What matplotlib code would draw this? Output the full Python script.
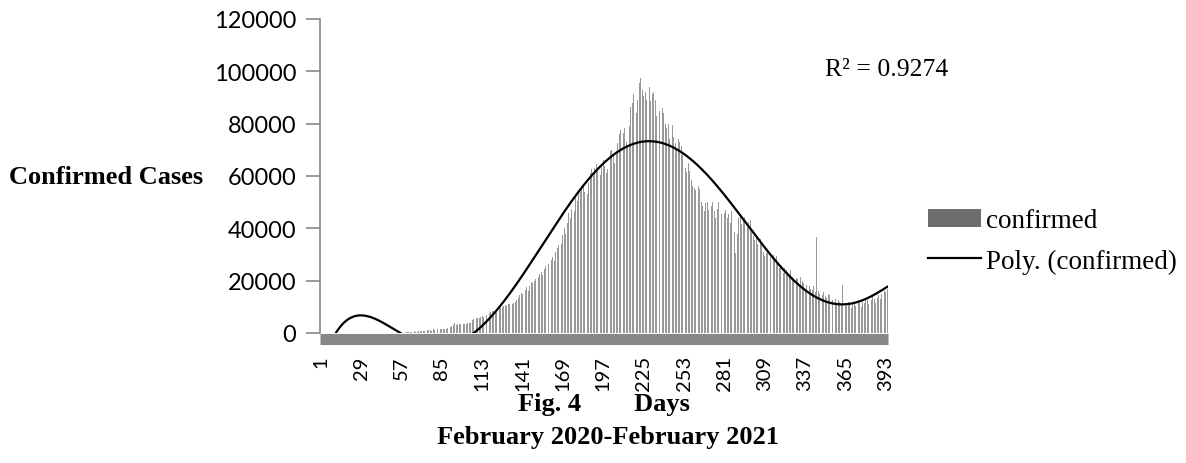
import matplotlib
matplotlib.use("Agg")
import matplotlib.pyplot as plt
import numpy as np

# daily confirmed cases, in 10-day chunks
d001_060 = [1, 0, 1, 1, 0, 0, 0, 0, 0, 0,
            0, 0, 0, 0, 0, 0, 0, 0, 0, 0,
            0, 0, 0, 0, 0, 0, 0, 0, 0, 0,
            0, 0, 2, 1, 22, 2, 1, 3, 5, 4,
            13, 6, 11, 9, 20, 11, 6, 23, 14, 38,
            50, 86, 66, 103, 37, 121, 70, 160, 100, 227]
d061_120 = [440, 240, 480, 530, 510, 700, 510, 490, 590, 900,
            770, 920, 800, 1210, 1080, 1010, 1060, 920, 1540, 1290,
            1330, 1550, 1340, 1380, 1410, 1680, 1610, 1560, 1870, 1740,
            2400, 2560, 2950, 3660, 2970, 3600, 3340, 3340, 3180, 3600,
            3590, 3560, 3720, 3970, 3970, 4990, 5240, 4970, 5610, 5610,
            5800, 6200, 6500, 6300, 6700, 7000, 6600, 7500, 8000, 8300]
d121_180 = [8500, 8200, 9000, 9800, 10200, 9600, 10000, 10500, 10800, 10300,
            10900, 11200, 10500, 11000, 11500, 11800, 12500, 13500, 14500, 15300,
            14800, 15500, 16500, 17500, 16000, 18000, 19600, 19000, 20000, 20500,
            19500, 21500, 22500, 23400, 22000, 24500, 25500, 24500, 26500, 27000,
            28000, 29000, 27500, 31000, 32500, 33500, 35000, 34000, 37500, 40000,
            38000, 42000, 45800, 44000, 47500, 49000, 46500, 52000, 50500, 53500]
d181_240 = [54000, 55500, 57000, 54000, 51000, 53000, 57500, 61000, 62500, 60000,
            63000, 64500, 62000, 58000, 60500, 63500, 66000, 64000, 61000, 62500,
            67000, 69500, 70000, 68500, 65000, 69500, 72500, 76000, 77500, 75000,
            76500, 78500, 73000, 71000, 79000, 86500, 88000, 91500, 90000, 84000,
            89000, 95500, 97400, 93000, 90500, 92000, 89000, 97800, 94000, 88500,
            91500, 92000, 89000, 83000, 86500, 85000, 81500, 86000, 84000, 80000]
d241_300 = [78500, 80000, 74000, 77500, 79500, 75000, 72500, 70500, 74000, 73000,
            71500, 68000, 66000, 63000, 61500, 65000, 62000, 58500, 56000, 55500,
            54500, 53500, 56000, 55000, 50000, 48500, 46500, 49500, 50000, 47000,
            45000, 48500, 50000, 46500, 44000, 47500, 50000, 48000, 45500, 43500,
            46000, 47000, 44000, 45500, 42000, 46500, 44000, 38500, 30500, 38000,
            44000, 45000, 41500, 43500, 44500, 41000, 40500, 42500, 43000, 38500]
d301_360 = [37000, 35500, 36500, 34000, 32000, 36000, 33500, 31000, 29500, 30500,
            31500, 31000, 29000, 27500, 30000, 28000, 29500, 26500, 25000, 26000,
            24500, 23000, 25000, 24000, 23500, 22500, 24000, 21500, 20000, 22000,
            21000, 20500, 18500, 21500, 20000, 19000, 16500, 18500, 19500, 18000,
            17000, 16500, 18000, 15500, 36600, 16000, 15000, 16500, 14500, 15500,
            14000, 13500, 15000, 14500, 13000, 12500, 14000, 13000, 11500, 12500]
d361_394 = [12000, 11000, 18400, 12500, 11500, 10500, 12000, 11000, 9500, 11500,
            12000, 10500, 11000, 12500, 11500, 10000, 12000, 11500, 13000, 12500,
            11000, 13500, 12500, 14000, 13000, 11500, 13500, 14500, 13000, 15000,
            14500, 16000, 15500, 17000]

confirmed = np.array(d001_060 + d061_120 + d121_180 + d181_240 +
                     d241_300 + d301_360 + d361_394, dtype=float)
days = np.arange(1, len(confirmed) + 1)
y_ticks = [0, 20000, 40000, 60000, 80000, 100000, 120000]
x_ticks = np.arange(1, len(confirmed) + 1, 28)

# 6th order polynomial trendline like Excel
poly = np.polynomial.Polynomial.fit(days, confirmed, 6)
xs = np.linspace(1, days[-1], 800)

serif = "Liberation Serif"
sans = "Lato"

fig = plt.figure(figsize=(11.86, 4.64), dpi=100)
ax = fig.add_axes([320 / 1186, 1 - 334 / 464, (888 - 320) / 1186, (334 - 20) / 464])

bars = ax.bar(days, confirmed, width=0.6, color="#999999", linewidth=0)
trend, = ax.plot(xs, poly(xs), color="black", lw=1.6)

for s in ["top", "right"]:
    ax.spines[s].set_visible(False)
# spine position first, it resets the ticks
ax.spines["bottom"].set_position(("outward", 4))
ax.spines["bottom"].set_color("#888888")
ax.spines["bottom"].set_linewidth(8)
ax.spines["bottom"].set_capstyle("butt")
ax.spines["left"].set_color("#888888")
ax.spines["left"].set_linewidth(1.2)

ax.set_xlim(0.5, len(confirmed) + 0.5)
ax.set_ylim(0, 120000)
ax.set_yticks(y_ticks)
ax.set_yticklabels([str(t) for t in y_ticks], fontfamily=sans, fontsize=17)
ax.set_xticks(x_ticks)
ax.set_xticklabels([str(t) for t in x_ticks], rotation=90, fontfamily=sans, fontsize=14.5)
ax.tick_params(axis="y", length=10, width=1.2, color="#888888", pad=7)
ax.tick_params(axis="x", length=0, pad=12)

fig.text(9 / 1186, 1 - 177 / 464, "Confirmed Cases", fontfamily=serif,
         fontweight="bold", fontsize=19, va="center", ha="left")
fig.text(825 / 1186, 1 - 70 / 464, "R² = 0.9274", fontfamily=serif,
         fontsize=18.5, va="center", ha="left")
fig.text(604 / 1186, 1 - 405 / 464, "Fig. 4        Days", fontfamily=serif,
         fontweight="bold", fontsize=19, va="center", ha="center")
fig.text(608 / 1186, 1 - 438 / 464, "February 2020-February 2021", fontfamily=serif,
         fontweight="bold", fontsize=19, va="center", ha="center")

leg = fig.legend([bars, trend], ["confirmed", "Poly. (confirmed)"],
                 loc="center left", bbox_to_anchor=(928 / 1186, 1 - 242 / 464),
                 frameon=False, prop={"family": serif, "size": 19.5},
                 borderpad=0, borderaxespad=0,
                 handlelength=1.95, handletextpad=0.18, labelspacing=0.55)
leg.legend_handles[0].set_color("#6d6d6d")

fig.savefig("out.png", dpi=100)
